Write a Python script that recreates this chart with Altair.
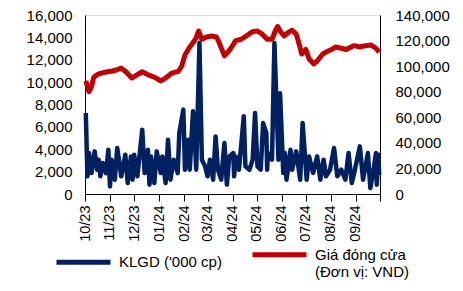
import altair as alt
import pandas as pd

# ---- data ----
vol_dates = [
    "2023-10-02", "2023-10-04", "2023-10-06", "2023-10-09", "2023-10-13", "2023-10-16",
    "2023-10-18", "2023-10-20", "2023-10-23", "2023-10-27", "2023-10-30", "2023-11-01",
    "2023-11-03", "2023-11-07", "2023-11-10", "2023-11-15", "2023-11-20", "2023-11-23",
    "2023-11-27", "2023-11-29", "2023-12-01", "2023-12-05", "2023-12-11", "2023-12-14",
    "2023-12-18", "2023-12-20", "2023-12-22", "2023-12-26", "2023-12-29", "2024-01-03",
    "2024-01-05", "2024-01-09", "2024-01-12", "2024-01-15", "2024-01-19", "2024-01-24",
    "2024-01-26", "2024-01-31", "2024-02-02", "2024-02-06", "2024-02-08", "2024-02-12",
    "2024-02-15", "2024-02-16", "2024-02-20", "2024-02-23", "2024-02-27", "2024-03-01",
    "2024-03-04", "2024-03-08", "2024-03-11", "2024-03-14", "2024-03-18", "2024-03-22",
    "2024-03-25", "2024-03-28", "2024-04-02", "2024-04-03", "2024-04-05", "2024-04-09",
    "2024-04-15", "2024-04-17", "2024-04-22", "2024-04-26", "2024-04-29", "2024-05-02",
    "2024-05-06", "2024-05-09", "2024-05-13", "2024-05-14", "2024-05-15", "2024-05-20",
    "2024-05-23", "2024-05-28", "2024-05-30", "2024-06-03", "2024-06-05", "2024-06-07",
    "2024-06-12", "2024-06-14", "2024-06-19", "2024-06-24", "2024-06-27", "2024-07-02",
    "2024-07-05", "2024-07-10", "2024-07-15", "2024-07-19", "2024-07-23", "2024-07-26",
    "2024-07-31", "2024-08-05", "2024-08-09", "2024-08-14", "2024-08-19", "2024-08-23",
    "2024-08-27", "2024-08-30", "2024-09-06", "2024-09-10", "2024-09-13", "2024-09-16",
    "2024-09-19", "2024-09-23", "2024-09-26", "2024-09-27", "2024-09-29", "2024-09-30",
]
vol_values = [
    7240, 1580, 3660, 1870, 3810, 2170,
    3070, 1580, 2770, 1870, 3960, 680,
    3070, 1280, 4110, 1580, 3510, 980,
    3360, 1280, 3510, 1580, 5750, 1870,
    3960, 830, 3360, 980, 3810, 1870,
    3360, 980, 4850, 1280, 3070, 1870,
    5450, 7540, 2170, 4850, 2170, 7390,
    3660, 2170, 13500, 3070, 2470, 1580,
    3070, 1280, 5150, 2170, 1280, 4560,
    830, 3360, 3660, 1580, 3360, 2170,
    6940, 2470, 2170, 3070, 7240, 2470,
    2170, 6340, 5450, 2170, 3660, 3070,
    13500, 3070, 9000, 1870, 3660, 1280,
    3960, 2170, 3810, 1280, 6340, 1280,
    3360, 1870, 3360, 1280, 3070, 1580,
    2170, 4110, 1580, 2170, 1280, 3660,
    980, 1870, 4260, 1280, 2470, 3660,
    530, 2170, 3660, 830, 3500, 1700,
]

price_dates = [
    "2023-10-02", "2023-10-04", "2023-10-06", "2023-10-09", "2023-10-12", "2023-10-18",
    "2023-10-27", "2023-11-03", "2023-11-09", "2023-11-15", "2023-11-21", "2023-11-28",
    "2023-12-04", "2023-12-11", "2023-12-19", "2023-12-26", "2024-01-03", "2024-01-09",
    "2024-01-17", "2024-01-25", "2024-01-29", "2024-02-02", "2024-02-08", "2024-02-15",
    "2024-02-19", "2024-02-23", "2024-02-29", "2024-03-06", "2024-03-12", "2024-03-15",
    "2024-03-22", "2024-03-29", "2024-04-05", "2024-04-12", "2024-04-19", "2024-04-26",
    "2024-05-02", "2024-05-08", "2024-05-14", "2024-05-20", "2024-05-24", "2024-05-27",
    "2024-05-30", "2024-06-04", "2024-06-10", "2024-06-14", "2024-06-19", "2024-06-21",
    "2024-06-26", "2024-07-01", "2024-07-05", "2024-07-11", "2024-07-15", "2024-07-22",
    "2024-07-26", "2024-08-02", "2024-08-07", "2024-08-14", "2024-08-20", "2024-08-26",
    "2024-08-30", "2024-09-06", "2024-09-13", "2024-09-20", "2024-09-26", "2024-09-30",
]
price_values = [
    88400, 84000, 80000, 84000, 91500, 94000,
    95400, 96000, 97000, 98500, 95400, 90700,
    93000, 95600, 93000, 91500, 88400, 90700,
    94600, 96000, 100000, 108700, 115000, 121000,
    127500, 121000, 122800, 123600, 122800, 119000,
    108000, 113000, 120000, 121000, 124000, 127000,
    127500, 125000, 121000, 121000, 127500, 131000,
    127500, 123600, 126700, 128000, 125000, 121000,
    109500, 113000, 105600, 101700, 104000, 109500,
    111000, 113000, 115000, 114000, 113000, 115000,
    116000, 115000, 116000, 116500, 114000, 111000,
]

series_names = ["KLGD ('000 cp)", "Giá đóng cửa|(Đơn vị: VND)"]
series_colors = ["#002060", "#C00000"]
x_ticks = [
    (2023, 10), (2023, 11), (2023, 12), (2024, 1), (2024, 2), (2024, 3), (2024, 4),
    (2024, 5), (2024, 6), (2024, 7), (2024, 8), (2024, 9), (2024, 10),
]
left_ticks = [0, 2000, 4000, 6000, 8000, 10000, 12000, 14000, 16000]
right_ticks = [0, 20000, 40000, 60000, 80000, 100000, 120000, 140000]

FONT = "Liberation Sans"

vol_df = pd.DataFrame({"date": vol_dates, "value": vol_values, "series": series_names[0]})
price_df = pd.DataFrame({"date": price_dates, "value": price_values, "series": series_names[1]})

x_enc = alt.X(
    "date:T",
    scale=alt.Scale(domain=[alt.DateTime(year=2023, month=10, date=1),
                            alt.DateTime(year=2024, month=10, date=1)]),
    axis=alt.Axis(
        values=[alt.DateTime(year=y, month=m, date=1) for y, m in x_ticks],
        format="%m/%y",
        labelExpr="timeFormat(datum.value, '%m/%y') == '10/24' ? '' : datum.label",
        labelAngle=270,
        title=None, grid=False, tickSize=7, tickColor="black", domainColor="black",
        labelFont=FONT, labelFontSize=14.5, labelColor="black", labelPadding=4,
    ),
)

color_enc = alt.Color(
    "series:N",
    scale=alt.Scale(domain=series_names, range=series_colors),
    legend=alt.Legend(
        title=None, orient="none", legendX=-31, legendY=210, direction="horizontal",
        symbolType="stroke", symbolSize=2916, symbolStrokeWidth=5,
        labelExpr="split(datum.label, '|')", labelFont=FONT, labelFontSize=15,
        labelColor="black", labelBaseline="middle", labelOffset=6, columnPadding=20,
        labelLimit=300,
    ),
)

vol = alt.Chart(vol_df).mark_line(strokeWidth=4.5, strokeJoin="round").encode(
    x=x_enc,
    y=alt.Y("value:Q", scale=alt.Scale(domain=[0, 16000], nice=False),
            axis=alt.Axis(values=left_ticks, format=",.0f", title=None, grid=False, ticks=False,
                          labelPadding=13, domainColor="black", labelFont=FONT,
                          labelFontSize=15, labelColor="black")),
    color=color_enc,
)

price = alt.Chart(price_df).mark_line(strokeWidth=5, strokeJoin="round").encode(
    x=x_enc,
    y=alt.Y("value:Q", scale=alt.Scale(domain=[0, 140000], nice=False),
            axis=alt.Axis(values=right_ticks, format=",.0f", title=None, grid=False, ticks=False,
                          orient="right", labelPadding=15, domainColor="black",
                          labelFont=FONT, labelFontSize=15, labelColor="black")),
    color=color_enc,
)

chart = alt.layer(vol, price).resolve_scale(y="independent").properties(
    width=295, height=179,
    padding={"left": 18, "top": 0, "right": 0, "bottom": 0},
).configure_view(stroke="black", strokeWidth=1).configure(background="white")

chart.save("out.html", embed_options={"renderer": "svg", "actions": False})
